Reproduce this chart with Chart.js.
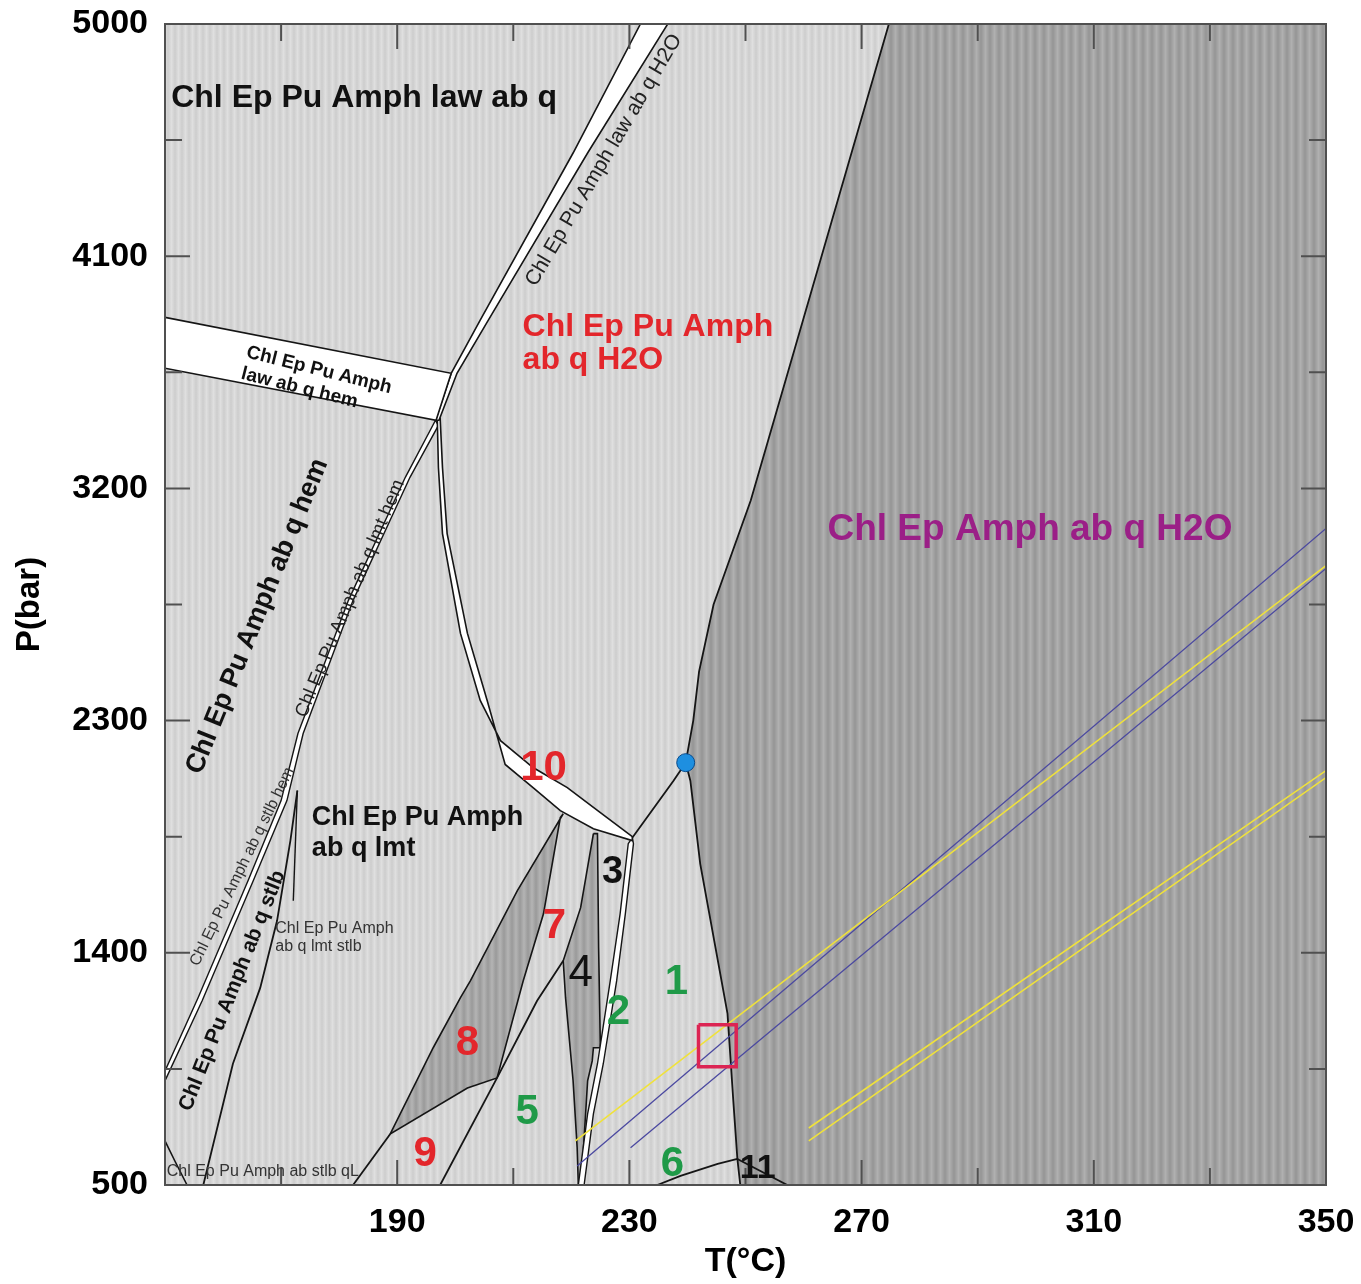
<!DOCTYPE html>
<html>
<head>
<meta charset="utf-8">
<title>Pseudosección P-T</title>
<script src="https://cdn.jsdelivr.net/npm/chart.js@4.4.1/dist/chart.umd.min.js"></script>
<style>
  html, body { margin: 0; padding: 0; background: #fff; }
</style>
</head>
<body>
<canvas id="grafico" width="1361" height="1284"></canvas>
<script>
const limiteOscuro = [[274.7,5000],[250.9,3153],[244.5,2750],[242.0,2490],[241.0,2300],[239.7,2137],[240.5,2067],[242.2,1745],[246.9,1164],[247.9,826],[248.6,601],[249.1,500]];
const zonaOscura = limiteOscuro.concat([[350,500],[350,5000]]);

const bandaHem = [[150,3863],[199.3,3646],[196.7,3464],[150,3666]];
const bandaH2O = [[231.9,5000],[236.6,5000],[222.8,4500],[205.7,3852],[200.3,3646],[197.2,3464],[196.6,3464],[199.3,3646],[204.3,3852],[220.3,4500]];
const banda10 = [[196.9,3472],[197.1,3281],[197.8,3025],[200.9,2638],[204.3,2378],[207.8,2222],[213.4,2118],[219.3,2040],[225.0,1943],[230.5,1850],
                 [230.5,1835],[223.8,1881],[218.1,1951],[213.4,2040],[208.6,2130],[205.5,2378],[202.1,2638],[198.6,3025],[197.8,3281],[197.4,3472]];
const bandaLmtHem = [[196.6,3464],[191.4,3243],[181.6,2766],[172.9,2250],[170.0,1990],[164.3,1679],[155.7,1226],[150,942],
                     [150,904],[156.4,1214],[165.2,1679],[171.0,1990],[173.8,2250],[182.4,2766],[192.2,3243],[197.1,3444]];
const banda2 = [[230.5,1846],[229.8,1823],[228.4,1551],[226.7,1291],[224.5,970],[222.8,776],[221.2,500],
                [222.2,500],[223.8,776],[225.5,970],[227.8,1291],[229.3,1551],[230.7,1823]];
const zona8 = [[218.6,1939],[210.7,1641],[202.6,1291],[200.9,1226],[196.2,1032],[188.8,698],[202.1,876],[207.2,915],[211.7,1291],[215.2,1551],[218.1,1924]];
const zona4 = [[223.8,1862],[221.6,1575],[218.6,1369],[219.0,1226],[220.3,904],[221.0,644],[221.2,500],[221.9,500],[222.1,644],[222.8,904],
               [223.6,981],[223.8,1032],[225.0,1032],[224.7,1419],[224.5,1862]];

const lineaNodoPunto = [[230.5,1846],[237.6,2067],[239.7,2137]];
const linea8Izq = [[188.8,698],[182.4,500]];
const linea8Der = [[207.2,915],[197.4,500]];
const linea4a5 = [[218.6,1369],[214.1,1214],[207.2,915]];
const curva6 = [[234.8,500],[238.8,535],[245.2,582],[248.6,601]];
const linea11 = [[248.6,601],[257.2,500]];
const lineaStlb = [[172.8,2029],[171.6,1835],[169.3,1524],[166.4,1264],[161.7,970],[156.6,500]];
const lineaStlbCorta = [[172.8,2029],[172.1,1602]];
const curvaEsquina = [[150,671],[151.7,593],[153.8,500]];

const amarillo1 = [[220.7,671],[350,2901]];
const azul1 = [[221.0,574],[350,3045]];
const azul2 = [[230.2,644],[350,2890]];
const amarillo2 = [[260.9,721],[350,2106]];
const amarillo3 = [[260.9,671],[350,2079]];

const cuadro = [[241.9,1121],[248.4,1121],[248.4,958],[241.9,958]];
const punto = [[239.7,2137]];

// ejes
const tMin = 150, tMax = 350, tPaso = 20;
const pMin = 500, pMax = 5000, pPaso = 450;
const tEtiquetas = [190, 230, 270, 310, 350];
const pEtiquetas = [500, 1400, 2300, 3200, 4100, 5000];

// textos del diagrama
const etiquetas = [
  { texto: ['Chl Ep Pu Amph law ab q'], t: 184.3, p: 4713, estilo: 'negroGrande' },
  { texto: ['Chl Ep Pu Amph law ab q H2O'], t: 225.6, p: 4472, angulo: -59.5, estilo: 'fino' },
  { texto: ['Chl Ep Pu Amph', 'law ab q hem'], t: 164.1, p: 3728, angulo: 14, estilo: 'banda', alinear: 'left' },
  { texto: ['Chl Ep Pu Amph', 'ab q H2O'], t: 211.6, p: 3825, estilo: 'rojoTexto', alinear: 'left' },
  { texto: ['Chl Ep Amph ab q H2O'], t: 299.0, p: 3041, estilo: 'morado' },
  { texto: ['Chl Ep Pu Amph ab q hem'], t: 165.9, p: 2704, angulo: -67.9, estilo: 'negroMedio' },
  { texto: ['Chl Ep Pu Amph ab q lmt hem'], t: 181.9, p: 2773, angulo: -67.3, estilo: 'fino19' },
  { texto: ['Chl Ep Pu Amph', 'ab q lmt'], t: 175.3, p: 1924, estilo: 'negroMedio', alinear: 'left' },
  { texto: ['Chl Ep Pu Amph ab q stlb hem'], t: 163.3, p: 1734, angulo: -64, estilo: 'chico' },
  { texto: ['Chl Ep Pu Amph ab q stlb'], t: 161.6, p: 1253, angulo: -68.4, estilo: 'negroChico' },
  { texto: ['Chl Ep Pu Amph', 'ab q lmt stlb'], t: 169.0, p: 1493, estilo: 'chico', alinear: 'left' },
  { texto: ['Chl Ep Pu Amph ab stlb qL'], t: 150.3, p: 551, estilo: 'chico', alinear: 'left' },
  { texto: ['10'], t: 215.2, p: 2114, estilo: 'numRojo' },
  { texto: ['3'], t: 227.1, p: 1711, estilo: 'numNegro' },
  { texto: ['7'], t: 217.1, p: 1501, estilo: 'numRojo' },
  { texto: ['4'], t: 221.6, p: 1319, estilo: 'numNegroFino' },
  { texto: ['1'], t: 238.1, p: 1284, estilo: 'numVerde' },
  { texto: ['2'], t: 228.1, p: 1167, estilo: 'numVerde' },
  { texto: ['8'], t: 202.1, p: 1047, estilo: 'numRojo' },
  { texto: ['5'], t: 212.4, p: 783, estilo: 'numVerde' },
  { texto: ['9'], t: 194.8, p: 617, estilo: 'numRojo' },
  { texto: ['6'], t: 237.4, p: 578, estilo: 'numVerde' },
  { texto: ['11'], t: 252.1, p: 562, estilo: 'numNegro11' }
];

const fam = '"Liberation Sans", Arial, Helvetica, sans-serif';
const estilos = {
  negroGrande: { font: 'bold 32px ' + fam, color: '#111', interlinea: 34 },
  fino: { font: '21px ' + fam, color: '#222', interlinea: 22 },
  fino19: { font: '19px ' + fam, color: '#222', interlinea: 20 },
  banda: { font: 'bold 19px ' + fam, color: '#111', interlinea: 22 },
  rojoTexto: { font: 'bold 32px ' + fam, color: '#e3262b', interlinea: 33 },
  morado: { font: 'bold 37px ' + fam, color: '#9b1f87', interlinea: 38 },
  negroMedio: { font: 'bold 27px ' + fam, color: '#111', interlinea: 31 },
  negroChico: { font: 'bold 21px ' + fam, color: '#111', interlinea: 22 },
  chico: { font: '16px ' + fam, color: '#333', interlinea: 18 },
  numRojo: { font: 'bold 42px ' + fam, color: '#e3262b', interlinea: 42 },
  numVerde: { font: 'bold 42px ' + fam, color: '#1f9a48', interlinea: 42 },
  numNegro: { font: 'bold 38px ' + fam, color: '#111', interlinea: 40 },
  numNegroFino: { font: '44px ' + fam, color: '#111', interlinea: 44 },
  numNegro11: { font: 'bold 34px ' + fam, color: '#111', interlinea: 34 }
};

// ---- rayado vertical de fondo ----
function rayas(oscuro, claro, periodo) {
  const c = document.createElement('canvas');
  c.width = periodo; c.height = 4;
  const g = c.getContext('2d');
  const grad = g.createLinearGradient(0, 0, periodo, 0);
  grad.addColorStop(0, oscuro);
  grad.addColorStop(0.5, claro);
  grad.addColorStop(1, oscuro);
  g.fillStyle = grad;
  g.fillRect(0, 0, periodo, 4);
  return g.createPattern(c, 'repeat');
}
const rayaClara = rayas('#cdcdcd', '#dfdfdf', 7);
const rayaOscura = rayas('#959595', '#b0b0b0', 9);
const rayaMedia = rayas('#9a9a9a', '#b4b4b4', 8);

const pts = arr => arr.map(([t, p]) => ({ x: t, y: p }));

function poligono(arr, relleno, borde, ancho, orden) {
  return {
    data: pts(arr.concat([arr[0]])), showLine: true, fill: 'shape',
    backgroundColor: relleno, borderColor: borde, borderWidth: ancho,
    pointRadius: 0, order: orden
  };
}
function linea(arr, color, ancho, orden) {
  return {
    data: pts(arr), showLine: true, fill: false,
    borderColor: color, borderWidth: ancho, pointRadius: 0, order: orden
  };
}

const negro = '#151515';
const datasets = [
  poligono(zonaOscura, rayaOscura, 'rgba(0,0,0,0)', 0, 60),
  poligono(zona8, rayaMedia, negro, 1.6, 50),
  poligono(zona4, rayaMedia, negro, 1.6, 50),
  poligono(bandaHem, '#ffffff', negro, 1.6, 40),
  poligono(bandaH2O, '#ffffff', negro, 1.6, 40),
  poligono(banda10, '#ffffff', negro, 1.6, 40),
  poligono(bandaLmtHem, '#ffffff', negro, 1.4, 40),
  poligono(banda2, '#ffffff', negro, 1.4, 40),
  linea(limiteOscuro, negro, 1.8, 30),
  linea(lineaNodoPunto, negro, 1.8, 30),
  linea(linea8Izq, negro, 1.8, 30),
  linea(linea8Der, negro, 1.8, 30),
  linea(linea4a5, negro, 1.8, 30),
  linea(curva6, negro, 1.8, 30),
  linea(linea11, negro, 1.8, 30),
  linea(lineaStlb, negro, 1.8, 30),
  linea(lineaStlbCorta, negro, 1.4, 30),
  linea(curvaEsquina, negro, 1.6, 30),
  linea(amarillo1, '#f0e23a', 1.6, 20),
  linea(azul1, '#4a48a0', 1.3, 20),
  linea(azul2, '#4a48a0', 1.3, 20),
  linea(amarillo2, '#f0e23a', 1.6, 20),
  linea(amarillo3, '#f0e23a', 1.6, 20),
  poligono(cuadro, 'rgba(0,0,0,0)', '#dc2453', 3.5, 10),
  { data: pts(punto), pointRadius: 9, pointBackgroundColor: '#1e8fe0', pointBorderColor: '#0b4c8c', pointBorderWidth: 1, order: 1 }
];

// ---- plugins de dibujo ----
const fondo = {
  id: 'fondo',
  beforeDatasetsDraw(chart) {
    const { ctx, chartArea: a } = chart;
    ctx.save();
    ctx.fillStyle = rayaClara;
    ctx.fillRect(a.left, a.top, a.right - a.left, a.bottom - a.top);
    ctx.restore();
  }
};

const marco = {
  id: 'marco',
  afterDatasetsDraw(chart) {
    const { ctx, chartArea: a, scales: { x, y } } = chart;
    ctx.save();
    ctx.strokeStyle = '#505050';
    ctx.lineWidth = 2;
    x.ticks.forEach(tk => {
      const px = x.getPixelForValue(tk.value);
      const largo = tEtiquetas.includes(tk.value) ? 25 : 17;
      ctx.beginPath();
      ctx.moveTo(px, a.bottom); ctx.lineTo(px, a.bottom - largo);
      ctx.moveTo(px, a.top); ctx.lineTo(px, a.top + largo);
      ctx.stroke();
    });
    y.ticks.forEach(tk => {
      const py = y.getPixelForValue(tk.value);
      const largo = pEtiquetas.includes(tk.value) ? 25 : 17;
      ctx.beginPath();
      ctx.moveTo(a.left, py); ctx.lineTo(a.left + largo, py);
      ctx.moveTo(a.right, py); ctx.lineTo(a.right - largo, py);
      ctx.stroke();
    });
    ctx.strokeRect(a.left, a.top, a.right - a.left, a.bottom - a.top);
    ctx.restore();
  }
};

const textos = {
  id: 'textos',
  afterDatasetsDraw(chart) {
    const { ctx, scales: { x, y } } = chart;
    etiquetas.forEach(e => {
      const st = estilos[e.estilo];
      ctx.save();
      ctx.translate(x.getPixelForValue(e.t), y.getPixelForValue(e.p));
      ctx.rotate((e.angulo || 0) * Math.PI / 180);
      ctx.font = st.font;
      ctx.fillStyle = st.color;
      ctx.textAlign = e.alinear || 'center';
      ctx.textBaseline = 'middle';
      e.texto.forEach((l, i) => ctx.fillText(l, 0, i * st.interlinea));
      ctx.restore();
    });
  }
};

const fuenteEje = { family: fam, size: 34, weight: 'bold' };
const sinRelleno = s => { s.paddingLeft = 0; s.paddingRight = 0; s.paddingTop = 0; s.paddingBottom = 0; };

new Chart(document.getElementById('grafico').getContext('2d'), {
  type: 'scatter',
  data: { datasets },
  options: {
    responsive: false,
    animation: false,
    events: [],
    layout: { padding: { top: 24, right: 35, left: 0, bottom: 0 } },
    plugins: { legend: { display: false }, tooltip: { enabled: false } },
    scales: {
      x: {
        type: 'linear', min: tMin, max: tMax,
        ticks: {
          stepSize: tPaso, autoSkip: false, maxRotation: 0, padding: 17,
          color: '#000', font: fuenteEje,
          callback: v => tEtiquetas.includes(v) ? String(v) : ''
        },
        grid: { drawOnChartArea: false, drawTicks: false },
        border: { display: false },
        title: { display: true, text: 'T(°C)', color: '#000', font: fuenteEje, padding: { top: 0, bottom: 2 } },
        afterFit: s => { s.height = 99; sinRelleno(s); }
      },
      y: {
        type: 'linear', min: pMin, max: pMax,
        ticks: {
          stepSize: pPaso, autoSkip: false, padding: 17,
          color: '#000', font: fuenteEje,
          callback: v => pEtiquetas.includes(v) ? String(v) : ''
        },
        grid: { drawOnChartArea: false, drawTicks: false },
        border: { display: false },
        title: { display: true, text: 'P(bar)', color: '#000', font: { family: fam, size: 33, weight: 'bold' }, padding: { top: 10, bottom: 0 } },
        afterFit: s => { s.width = 165; sinRelleno(s); }
      }
    }
  },
  plugins: [fondo, marco, textos]
});
</script>
</body>
</html>
